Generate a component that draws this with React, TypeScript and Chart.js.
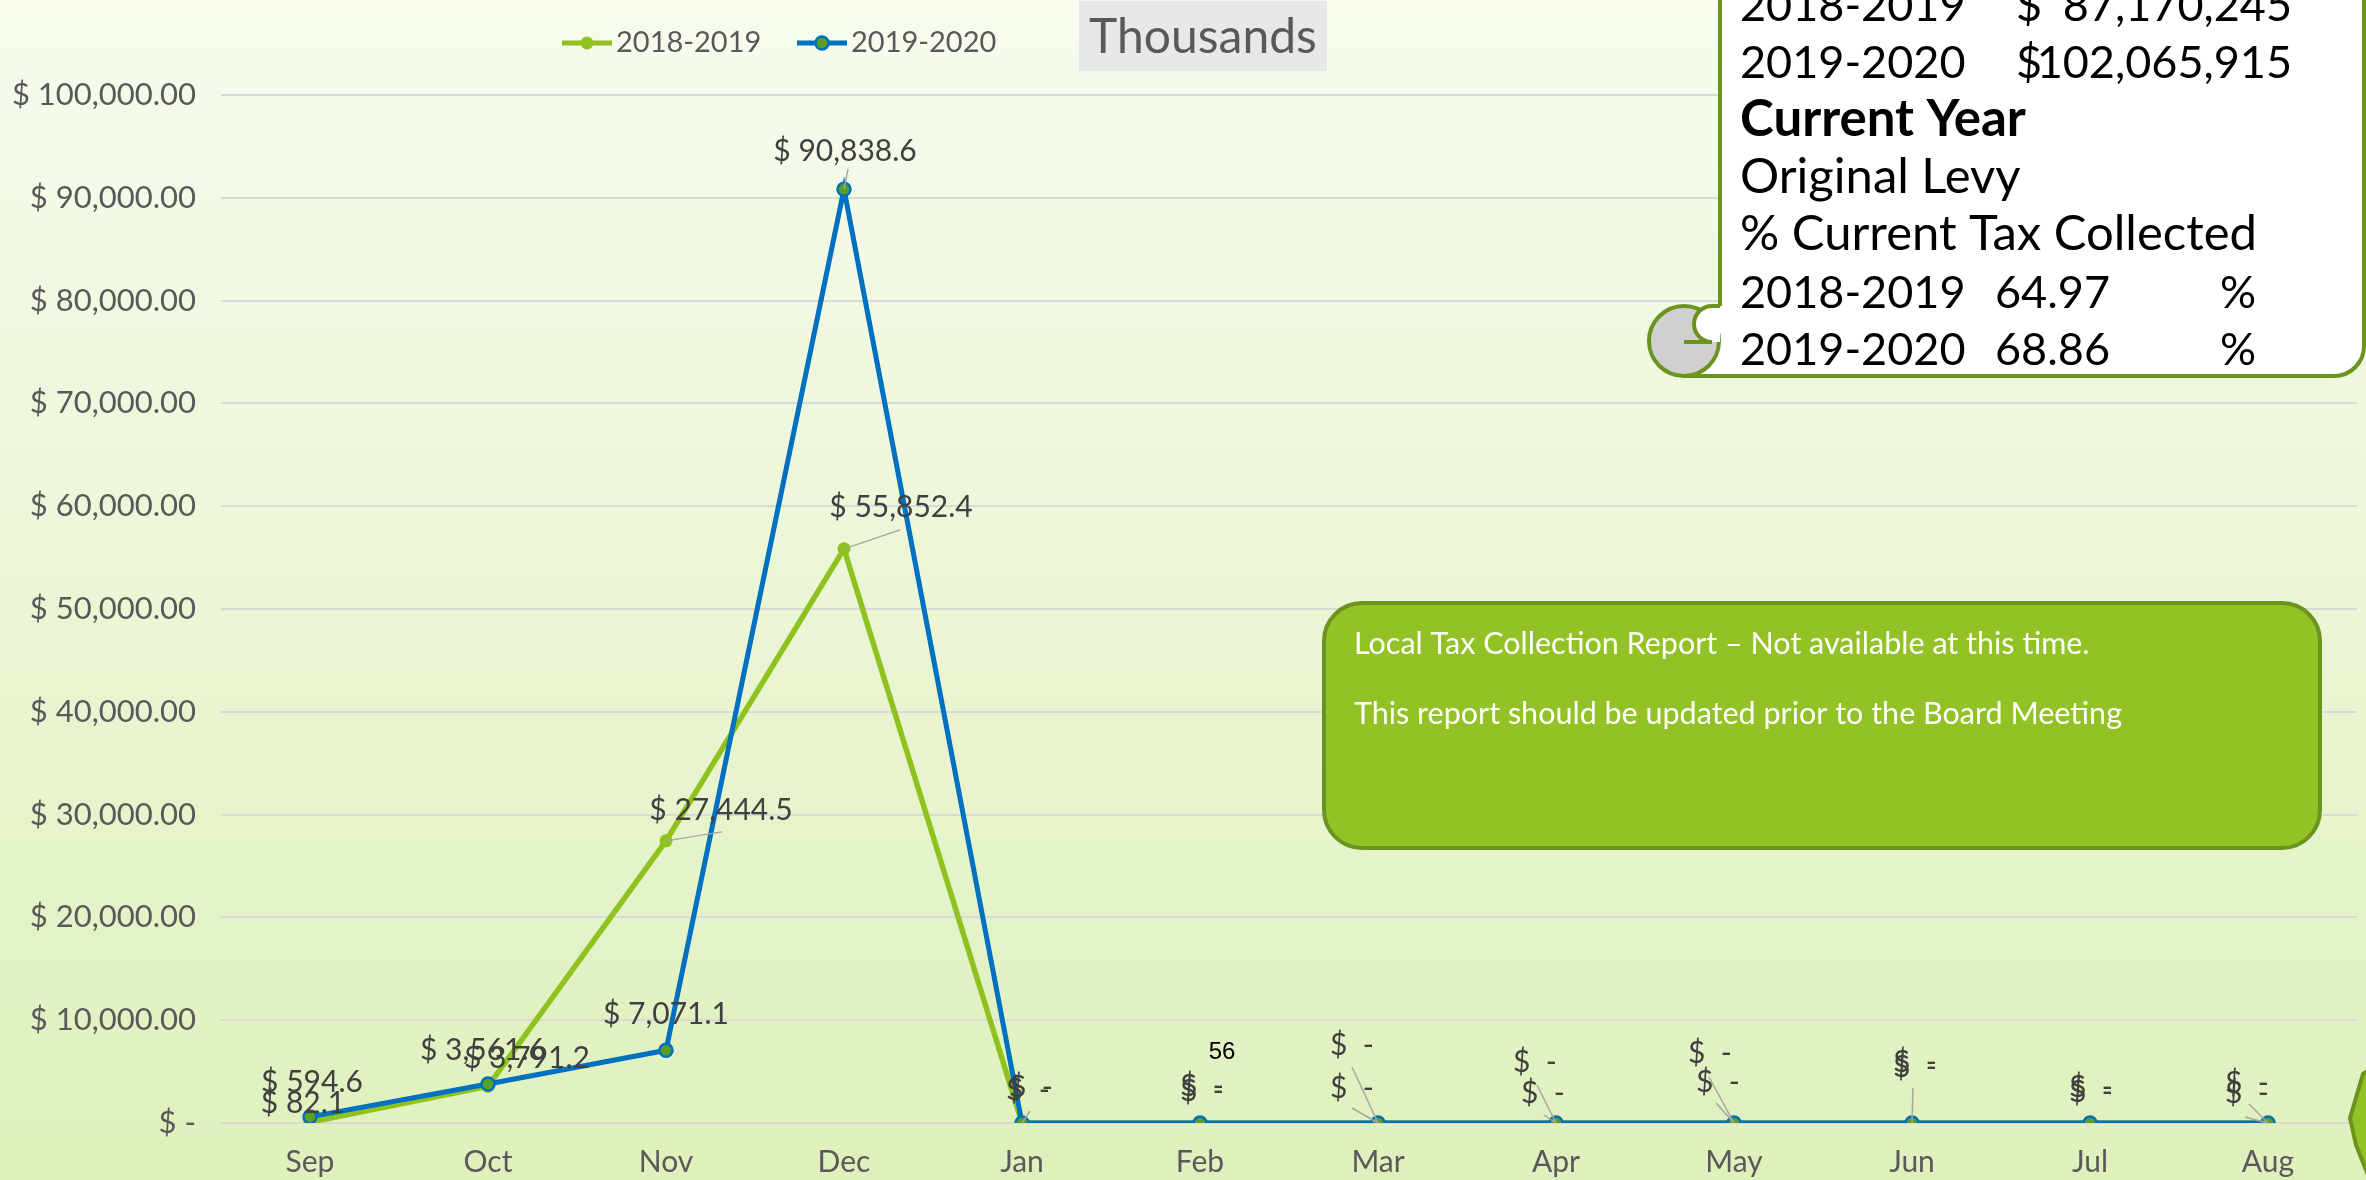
import React, { useEffect, useRef } from "react";
import { Chart, registerables } from "chart.js";

Chart.register(...registerables);

// ---------- data ----------
const months = ["Sep", "Oct", "Nov", "Dec", "Jan", "Feb", "Mar", "Apr", "May", "Jun", "Jul", "Aug"];
const collected2018 = [82.1, 3561.6, 27444.5, 55852.4, 0, 0, 0, 0, 0, 0, 0, 0];
const collected2019 = [594.6, 3791.2, 7071.1, 90838.6, 0, 0, 0, 0, 0, 0, 0, 0];
const seriesNames = ["2018-2019", "2019-2020"];
const yMin = 0;
const yMax = 100000;
const yStep = 10000;
const levyYears = ["2018-2019", "2019-2020"];
const levyAmounts = ["87,170,245", "102,065,915"];
const pctValues = ["64.97", "68.86"];
const unitLabel = "Thousands";
const noteLines = [
  "Local Tax Collection Report \u2013 Not available at this time.",
  "This report should be updated prior to the Board Meeting",
];
const strayText = "56";

// ---------- styles / label layout (pixels, not data) ----------
const FONT = "Lato, 'Open Sans', sans-serif";
const GREEN = "#8fc21f";
const BLUE = "#0070c0";
const OLIVE = "#5a9e24";
const BORDER_GREEN = "#6b941e";
// label centre offsets from each point [dx, dy]
const labelOffsets2018 = [[-7, -19], [-5, -36], [55, -31], [57, -42], [6, -33], [2, -32], [-26, -35], [-13, -30], [-16, -41], [3, -56], [1, -31], [-21, -30]];
const labelOffsets2019 = [[2, -35], [39, -26], [0, -36], [1, -38], [9, -36], [2, -37], [-26, -78], [-21, -61], [-24, -70], [3, -61], [1, -36], [-21, -40]];
// leader line end offsets from each point (null = none)
const leaders2018: (number[] | null)[] = [null, null, [56, -9], [56, -19], null, null, [-26, -15], [-12, -8], [-18, -20], null, null, [-23, -6]];
const leaders2019: (number[] | null)[] = [null, null, null, [4, -20], [8, -12], null, [-26, -56], [-19, -38], [-25, -46], [1, -35], null, [-19, -19]];

function fmtLabel(v: number) {
  if (v === 0) return "$  -";
  return "$ " + v.toLocaleString("en-US", { minimumFractionDigits: 1, maximumFractionDigits: 1 });
}
function fmtTick(v: number) {
  if (v === 0) return "$ -";
  return "$ " + v.toLocaleString("en-US", { minimumFractionDigits: 2, maximumFractionDigits: 2 });
}

const overlayPlugin = {
  id: "overlay",
  beforeDraw(chart: any) {
    const { ctx, width, height } = chart;
    ctx.save();
    const g = ctx.createLinearGradient(0, 0, 0, height);
    g.addColorStop(0, "#f7fcef");
    g.addColorStop(1, "#dff0bc");
    ctx.fillStyle = g;
    ctx.fillRect(0, 0, width, height);
    ctx.restore();
  },
  afterDatasetsDraw(chart: any) {
    const ctx = chart.ctx;
    const offsetsSets = [labelOffsets2018, labelOffsets2019];
    const leaderSets = [leaders2018, leaders2019];
    ctx.save();
    chart.data.datasets.forEach((ds: any, di: number) => {
      const meta = chart.getDatasetMeta(di);
      meta.data.forEach((pt: any, j: number) => {
        const ld = leaderSets[di][j];
        if (ld) {
          ctx.strokeStyle = "#a6a6a6";
          ctx.lineWidth = 1.5;
          ctx.beginPath();
          ctx.moveTo(pt.x, pt.y);
          ctx.lineTo(pt.x + ld[0], pt.y + ld[1]);
          ctx.stroke();
        }
      });
    });
    chart.data.datasets.forEach((ds: any, di: number) => {
      const meta = chart.getDatasetMeta(di);
      meta.data.forEach((pt: any, j: number) => {
        const off = offsetsSets[di][j];
        ctx.fillStyle = "#404040";
        ctx.font = `30px ${FONT}`;
        ctx.textAlign = "center";
        ctx.textBaseline = "middle";
        ctx.fillText(fmtLabel(ds.data[j]), pt.x + off[0], pt.y + off[1]);
      });
    });
    ctx.restore();
  },
  afterDraw(chart: any) {
    const ctx = chart.ctx;
    ctx.save();
    // legend
    const legendItems = [
      { x: 562, fill: GREEN, stroke: GREEN, line: GREEN },
      { x: 797, fill: OLIVE, stroke: BLUE, line: BLUE },
    ];
    legendItems.forEach((it, i) => {
      const y = 43;
      ctx.strokeStyle = it.line;
      ctx.lineWidth = 5;
      ctx.beginPath();
      ctx.moveTo(it.x, y);
      ctx.lineTo(it.x + 50, y);
      ctx.stroke();
      ctx.beginPath();
      ctx.arc(it.x + 25, y, 6.5, 0, Math.PI * 2);
      ctx.fillStyle = it.fill;
      ctx.fill();
      if (i === 1) {
        ctx.lineWidth = 2.5;
        ctx.strokeStyle = it.stroke;
        ctx.stroke();
      }
      ctx.fillStyle = "#595959";
      ctx.font = `29px ${FONT}`;
      ctx.textAlign = "left";
      ctx.textBaseline = "middle";
      ctx.fillText(chart.data.datasets[i].label, it.x + 54, y);
    });

    // Thousands box
    ctx.fillStyle = "#e8e8e8";
    ctx.fillRect(1079, 1, 248, 70);
    ctx.fillStyle = "#595959";
    ctx.font = `48px ${FONT}`;
    ctx.textAlign = "center";
    ctx.textBaseline = "middle";
    ctx.fillText(unitLabel, 1203, 38);

    // scroll box (top right)
    ctx.beginPath();
    ctx.moveTo(1720, -20);
    ctx.lineTo(2364, -20);
    ctx.lineTo(2364, 346);
    ctx.arcTo(2364, 376, 2334, 376, 30);
    ctx.lineTo(1684, 376);
    ctx.lineTo(1684, 306);
    ctx.lineTo(1720, 306);
    ctx.closePath();
    ctx.fillStyle = "#ffffff";
    ctx.fill();
    ctx.strokeStyle = BORDER_GREEN;
    ctx.lineWidth = 4;
    ctx.beginPath();
    ctx.moveTo(1720, -20);
    ctx.lineTo(1720, 306);
    ctx.moveTo(2364, -20);
    ctx.lineTo(2364, 346);
    ctx.arcTo(2364, 376, 2334, 376, 30);
    ctx.lineTo(1684, 376);
    ctx.stroke();
    // curl
    ctx.beginPath();
    ctx.arc(1684, 341, 35, 0, Math.PI * 2);
    ctx.fillStyle = "#d0d0d0";
    ctx.fill();
    ctx.stroke();
    ctx.beginPath();
    ctx.moveTo(1720, 306);
    ctx.arc(1712, 324, 18, -Math.PI / 2, Math.PI / 2, true);
    ctx.lineTo(1720, 342);
    ctx.closePath();
    ctx.fillStyle = "#ffffff";
    ctx.fill();
    ctx.beginPath();
    ctx.moveTo(1720, 306);
    ctx.arc(1712, 324, 18, -Math.PI / 2, Math.PI / 2, true);
    ctx.lineTo(1684, 342);
    ctx.stroke();

    // scroll text
    ctx.fillStyle = "#000000";
    ctx.textBaseline = "alphabetic";
    const base = [21, 78, 136, 193, 250, 308, 365];
    const L = 1740;
    const numFont = `45px ${FONT}`;
    levyYears.forEach((yr, i) => {
      ctx.font = numFont;
      ctx.textAlign = "left";
      ctx.fillText(yr, L, base[i]);
      ctx.fillText("$", 2016, base[i]);
      ctx.textAlign = "right";
      ctx.fillText(levyAmounts[i], 2292, base[i]);
    });
    ctx.textAlign = "left";
    ctx.font = `bold 51px ${FONT}`;
    ctx.fillText("Current Year", L, base[2]);
    ctx.font = `49px ${FONT}`;
    ctx.fillText("Original Levy", L, base[3]);
    ctx.fillText("% Current Tax Collected", L, base[4]);
    levyYears.forEach((yr, i) => {
      ctx.font = numFont;
      ctx.textAlign = "left";
      ctx.fillText(yr, L, base[5 + i]);
      ctx.fillText(pctValues[i], 1995, base[5 + i]);
      ctx.fillText("%", 2220, base[5 + i]);
    });

    // green note box
    ctx.beginPath();
    (ctx as any).roundRect(1324, 603, 996, 245, 38);
    ctx.fillStyle = "#92c225";
    ctx.fill();
    ctx.strokeStyle = BORDER_GREEN;
    ctx.lineWidth = 4;
    ctx.stroke();
    ctx.fillStyle = "#ffffff";
    ctx.font = `30.5px ${FONT}`;
    ctx.textAlign = "left";
    ctx.textBaseline = "alphabetic";
    ctx.fillText(noteLines[0], 1354, 654);
    ctx.fillText(noteLines[1], 1354, 724);

    // stray text
    ctx.fillStyle = "#000000";
    ctx.font = `24px 'Liberation Sans', Arial, sans-serif`;
    ctx.textAlign = "center";
    ctx.textBaseline = "middle";
    ctx.fillText(strayText, 1222, 1052);

    // partial shape at bottom-right corner
    ctx.beginPath();
    ctx.moveTo(2363, 1074);
    ctx.lineTo(2372, 1068);
    ctx.lineTo(2372, 1185);
    ctx.lineTo(2356, 1145);
    ctx.lineTo(2350, 1118);
    ctx.closePath();
    ctx.fillStyle = "#92c225";
    ctx.fill();
    ctx.strokeStyle = BORDER_GREEN;
    ctx.lineWidth = 4;
    ctx.stroke();
    ctx.restore();
  },
};

export default function App() {
  const ref = useRef<HTMLCanvasElement | null>(null);
  useEffect(() => {
    document.body.style.margin = "0";
    let chart: any = null;
    let cancelled = false;
    const make = () => {
      if (cancelled || !ref.current) return;
      chart = new Chart(ref.current, {
        type: "line",
        data: {
          labels: months,
          datasets: [
            {
              label: seriesNames[0],
              data: collected2018,
              borderColor: GREEN,
              backgroundColor: GREEN,
              borderWidth: 5.5,
              pointRadius: 6.5,
              pointBackgroundColor: GREEN,
              pointBorderColor: GREEN,
              pointBorderWidth: 0,
              tension: 0,
              order: 1,
            },
            {
              label: seriesNames[1],
              data: collected2019,
              borderColor: BLUE,
              backgroundColor: BLUE,
              borderWidth: 5,
              pointRadius: 6.5,
              pointBackgroundColor: OLIVE,
              pointBorderColor: BLUE,
              pointBorderWidth: 2.5,
              tension: 0,
              order: 0,
            },
          ],
        },
        options: {
          animation: false,
          responsive: false,
          devicePixelRatio: 1,
          layout: { padding: { top: 95, right: 8, bottom: 0, left: 0 } },
          plugins: { legend: { display: false }, tooltip: { enabled: false } },
          scales: {
            x: {
              offset: true,
              grid: { display: false, drawTicks: false },
              border: { display: false },
              ticks: {
                color: "#595959",
                font: { family: FONT, size: 30 },
                padding: 21,
                maxRotation: 0,
                autoSkip: false,
              },
              afterFit(s: any) {
                s.height = 57;
              },
            },
            y: {
              min: yMin,
              max: yMax,
              ticks: {
                stepSize: yStep,
                color: "#595959",
                font: { family: FONT, size: 31 },
                padding: 25,
                callback: (v: any) => fmtTick(Number(v)),
              },
              grid: { color: "#d9d9d9", lineWidth: 2, drawTicks: false },
              border: { display: false },
              afterFit(s: any) {
                s.width = 221;
              },
            },
          },
        },
        plugins: [overlayPlugin],
      } as any);
    };
    const fonts: any = (document as any).fonts;
    if (fonts && fonts.load) {
      Promise.all([fonts.load(`30px Lato`), fonts.load(`bold 51px Lato`)]).then(make, make);
    } else {
      make();
    }
    return () => {
      cancelled = true;
      if (chart) chart.destroy();
    };
  }, []);
  return (
    <div style={{ width: 2366, height: 1180, overflow: "hidden" }}>
      <canvas ref={ref} width={2366} height={1180} style={{ display: "block", width: 2366, height: 1180 }} />
    </div>
  );
}
